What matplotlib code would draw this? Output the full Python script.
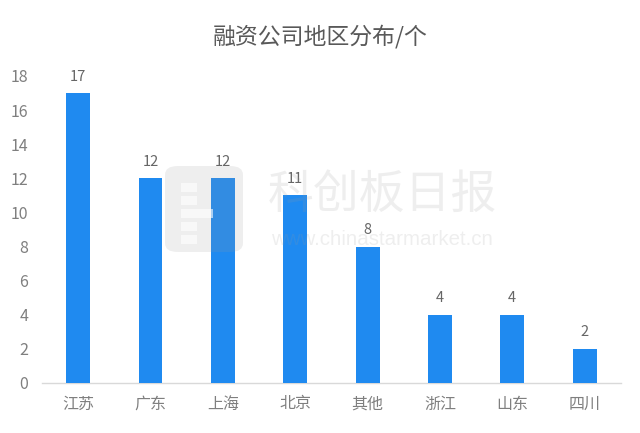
import matplotlib
matplotlib.use("Agg")
import matplotlib.pyplot as plt
from matplotlib.patches import FancyBboxPatch, Rectangle

plt.rcParams['font.family'] = ['Noto Sans CJK SC', 'DejaVu Sans']

categories = ["江苏", "广东", "上海", "北京", "其他", "浙江", "山东", "四川"]
values = [17, 12, 12, 11, 8, 4, 4, 2]
title = "融资公司地区分布/个"

W, H = 640, 433
fig = plt.figure(figsize=(6.4, 4.33), dpi=100)
ax = fig.add_axes([0.0656, 0.1155, 0.9044, 0.709])

bar_color = "#1F8AF0"
x = list(range(len(categories)))
ax.bar(x, values, width=0.33, color=bar_color, zorder=3)
for xi, v in zip(x, values):
    ax.text(xi, v + 0.55, str(v), ha="center", va="bottom", fontsize=10.5,
            color="#666666")

ax.set_xlim(-0.5, len(categories) - 0.5)
ax.set_ylim(0, 18)
ax.set_yticks(range(0, 19, 2))
ax.set_xticks(x)
ax.set_xticklabels(categories)
ax.tick_params(axis="both", length=0, colors="#7F7F7F")
ax.tick_params(axis="x", pad=9, labelsize=11.5)
ax.tick_params(axis="y", pad=10, labelsize=11.5)
for s in ["top", "right", "left"]:
    ax.spines[s].set_visible(False)
ax.spines["bottom"].set_color("#D9D9D9")
ax.spines["bottom"].set_linewidth(1)

fig.text(0.5, 0.915, title, ha="center", va="center", fontsize=16.5, color="#595959")

# watermark
fig.text(0.597, 0.55, "科创板日报", ha="center", va="center", fontsize=33,
         color="#9A9A9A", alpha=0.16, zorder=5)
fig.text(0.597, 0.446, "www.chinastarmarket.cn", ha="center", va="center", fontsize=14.8,
         color="#9A9A9A", alpha=0.16, zorder=5, family="Liberation Sans")
logo = FancyBboxPatch((165 / W, 1 - 252 / H), 78 / W, 86 / H,
                      boxstyle="round,pad=0,rounding_size=0.02",
                      transform=fig.transFigure, facecolor="#9A9A9A",
                      edgecolor="none", alpha=0.16, zorder=5)
fig.patches.append(logo)
for (bx, by, bw, bh) in [(181, 183, 16, 9), (181, 196, 16, 9), (181, 209, 32, 9),
                         (181, 222, 16, 9), (181, 235, 16, 9)]:
    fig.patches.append(Rectangle((bx / W, 1 - (by + bh) / H), bw / W, bh / H,
                                 transform=fig.transFigure, facecolor="white",
                                 edgecolor="none", alpha=0.6, zorder=6))

fig.savefig("out.png", dpi=100, facecolor="white")
